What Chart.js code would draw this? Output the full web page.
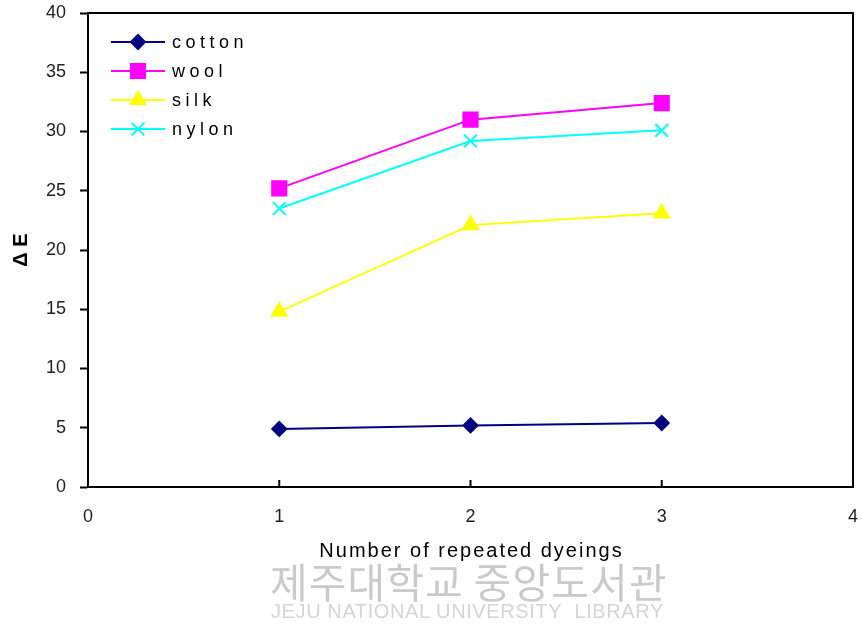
<!DOCTYPE html>
<html>
<head>
<meta charset="utf-8">
<script src="https://cdn.jsdelivr.net/npm/chart.js@4"></script>
<style>
  body { margin: 0; background: #fff; overflow: hidden; }
  #wrap { position: relative; width: 862px; height: 635px; overflow: hidden; }
  #box { position: absolute; left: 0; top: 0; width: 865px; height: 635px; }
  .wm { position: absolute; left: 0; width: 862px; pointer-events: none; }
  #wmKo { top: 550px; left: 270px; font: 41px "Noto Sans CJK KR"; color: rgba(150,150,150,0.5); letter-spacing: 1px; white-space: nowrap; }
  #wmEn { top: 600px; left: 271px; font: 20px "Liberation Sans", sans-serif; color: rgba(160,160,160,0.45); letter-spacing: 0.6px; white-space: nowrap; }
</style>
</head>
<body>
<div id="wrap">
  <div id="box"><canvas id="chart"></canvas></div>
  <div class="wm" id="wmKo">제주대학교 중앙도서관</div>
  <div class="wm" id="wmEn">JEJU NATIONAL UNIVERSITY&nbsp;&nbsp;LIBRARY</div>
</div>
<script>
// Data
const dyeings = [1, 2, 3];
const cotton = [4.9, 5.2, 5.4];
const wool = [25.2, 31.0, 32.4];
const silk = [14.8, 22.1, 23.1];
const nylon = [23.5, 29.2, 30.1];
const xTicks = [0, 1, 2, 3, 4];
const yMax = 40;
const xTitle = "Number of repeated dyeings";

const toPoints = (vals) => vals.map((v, i) => ({ x: dyeings[i], y: v }));

const series = [
  { label: "cotton", data: cotton, color: "#000080", style: "rectRot", radius: 7 },
  { label: "wool", data: wool, color: "#FF00FF", style: "rect", radius: 10 },
  { label: "silk", data: silk, color: "#FFFF00", style: "triangle", radius: 8.5 },
  { label: "nylon", data: nylon, color: "#00FFFF", style: "crossRot", radius: 9 },
];

// frame, inward x ticks, x title and the legend
const framePlugin = {
  id: "frame",
  afterDraw(chart) {
    const ctx = chart.ctx;
    const a = chart.chartArea;
    const xs = chart.scales.x;
    ctx.save();
    ctx.strokeStyle = "#000";
    ctx.lineWidth = 2;
    ctx.strokeRect(a.left, a.top, a.right - a.left, a.bottom - a.top);
    xTicks.forEach((t) => {
      const px = xs.getPixelForValue(t);
      ctx.beginPath();
      ctx.moveTo(px, a.bottom);
      ctx.lineTo(px, a.bottom - 7);
      ctx.stroke();
    });

    // x axis title, letter spaced
    ctx.fillStyle = "#000";
    ctx.font = "20px 'Liberation Sans', sans-serif";
    ctx.letterSpacing = "2px";
    ctx.textAlign = "center";
    ctx.textBaseline = "middle";
    ctx.fillText(xTitle, (a.left + a.right) / 2 + 1, a.bottom + 64);

    // legend
    ctx.textAlign = "left";
    const lx = a.left + 23;
    let ly = a.top + 29;
    chart.data.datasets.forEach((ds, i) => {
      const s = series[i];
      ctx.strokeStyle = s.color;
      ctx.fillStyle = s.color;
      ctx.lineWidth = 2;
      ctx.beginPath();
      ctx.moveTo(lx, ly);
      ctx.lineTo(lx + 54, ly);
      ctx.stroke();
      Chart.helpers.drawPoint(ctx, { pointStyle: s.style, radius: s.radius, borderWidth: 2, rotation: 0 }, lx + 27, ly);
      ctx.fillStyle = "#000";
      ctx.font = "18px 'Liberation Sans', sans-serif";
      ctx.letterSpacing = "4.5px";
      ctx.fillText(ds.label, lx + 61, ly + 1);
      ly += 29;
    });
    ctx.restore();
  },
};

new Chart(document.getElementById("chart"), {
  type: "line",
  data: {
    datasets: series.map((s) => ({
      label: s.label,
      data: toPoints(s.data),
      borderColor: s.color,
      backgroundColor: s.color,
      borderWidth: 2,
      pointStyle: s.style,
      pointRadius: s.radius,
      pointHoverRadius: s.radius,
      pointBorderWidth: 2,
      tension: 0,
    })),
  },
  options: {
    responsive: true,
    maintainAspectRatio: false,
    animation: false,
    layout: { padding: { left: 0, top: 13, right: 6, bottom: 74 } },
    plugins: { legend: { display: false }, tooltip: { enabled: false } },
    scales: {
      x: {
        type: "linear",
        min: 0,
        max: 4,
        afterBuildTicks: (scale) => { scale.ticks = xTicks.map((v) => ({ value: v })); },
        afterFit: (scale) => {
          scale.height = 74;
          scale.paddingLeft = 0;
          scale.paddingRight = 0;
        },
        grid: { display: false, drawTicks: false },
        border: { display: true, color: "#000", width: 2 },
        ticks: { padding: 19, color: "#222", font: { family: "'Liberation Sans', sans-serif", size: 18 } },
      },
      y: {
        min: 0,
        max: yMax,
        afterFit: (scale) => {
          scale.width = 88;
          scale.paddingTop = 0;
          scale.paddingBottom = 0;
        },
        ticks: { stepSize: 5, padding: 14, color: "#222", font: { family: "'Liberation Sans', sans-serif", size: 18 } },
        grid: { drawOnChartArea: false, drawTicks: true, tickLength: 8, color: "#000", tickWidth: 2 },
        border: { display: true, color: "#000", width: 2 },
        title: {
          display: true,
          text: "Δ E",
          color: "#000",
          padding: { top: 9, bottom: 0 },
          font: { family: "'Liberation Sans', sans-serif", size: 20, weight: "bold" },
        },
      },
    },
  },
  plugins: [framePlugin],
});
</script>
</body>
</html>
